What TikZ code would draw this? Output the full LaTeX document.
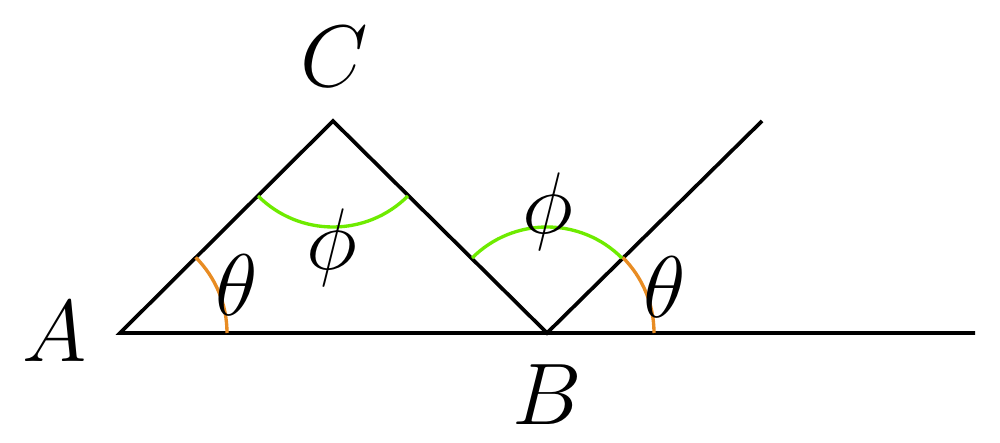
\documentclass[tikz,border=0pt]{standalone}
\definecolor{angorange}{RGB}{232,140,35}
\definecolor{anggreen}{RGB}{110,235,0}
\tikzset{
  edge/.style={line width=1.05pt, black},
  thetaarc/.style={line width=0.95pt, angorange},
  phiarc/.style={line width=0.95pt, anggreen},
  lbl/.style={font=\fontsize{26.5}{30}\selectfont, inner sep=0pt},
}
\begin{document}
\begin{tikzpicture}
\useasboundingbox (0,0) rectangle (10,4.42);
\coordinate (A) at (1.20,1.09);
\coordinate (C) at (3.33,3.21);
\coordinate (B) at (5.47,1.09);
\coordinate (D) at (7.62,3.21);
\coordinate (E) at (9.75,1.09);
\draw[edge] (E) -- (A) -- (C) -- (B) -- (D);
\draw[thetaarc] ([shift={(0:1.07)}]A) arc[start angle=0, end angle=45, radius=1.07];
\draw[thetaarc] ([shift={(0:1.07)}]B) arc[start angle=0, end angle=45, radius=1.07];
\draw[phiarc] ([shift={(225:1.06)}]C) arc[start angle=225, end angle=315, radius=1.06];
\draw[phiarc] ([shift={(45:1.06)}]B) arc[start angle=45, end angle=135, radius=1.06];
\node[lbl] (la) at (0.55,1.10) {$A$};
\node[lbl] (lb) at (5.47,0.47) {$B$};
\node[lbl] (lc) at (3.34,3.85) {$C$};
\node[lbl] (t1) at (2.37,1.57) {$\theta$};
\node[lbl] (t2) at (6.65,1.55) {$\theta$};
\node[lbl] (p1) at (3.32,1.94) {$\phi$};
\node[lbl] (p2) at (5.48,2.30) {$\phi$};
\end{tikzpicture}
\end{document}
